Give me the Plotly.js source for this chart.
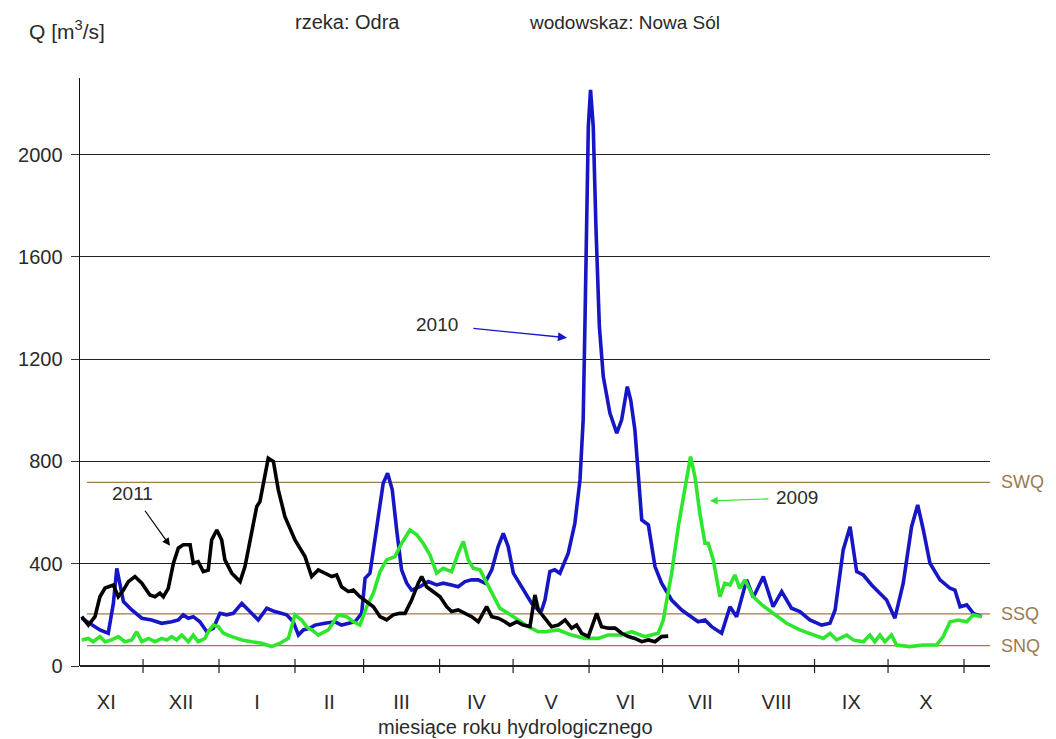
<!DOCTYPE html>
<html>
<head>
<meta charset="utf-8">
<script src="https://cdn.plot.ly/plotly-3.0.1.min.js"></script>
<style>
  html, body { margin: 0; padding: 0; background: #fff; }
  #chart { width: 1056px; height: 739px; }
</style>
</head>
<body>
<div id="chart"></div>
<script>
// Hydrological year starts on 1 November; x = day of the hydrological year.
const monthLabels = ['XI', 'XII', 'I', 'II', 'III', 'IV', 'V', 'VI', 'VII', 'VIII', 'IX', 'X'];
const monthLengths = [30, 31, 31, 28, 31, 30, 31, 30, 31, 31, 30, 31];

// Characteristic flows [m3/s]
const levelNames = ['SWQ', 'SSQ', 'SNQ'];
const levelValues = [718, 204, 80];

// 2009 (green)
const days2009 = [5, 7.7, 9.7, 12.4, 14.5, 17.2, 19.9, 22.6, 25.4, 27.4, 29.5, 32.2, 34.9, 37.6, 39.7, 41.7, 43.7, 45.8, 48.5, 50.5, 52.5, 55.3, 56.6, 58.7, 60.7, 62.8, 66.2, 70.3, 74.3, 78.4, 82.5, 85.9, 89.3, 90.7, 92, 94.7, 97, 99, 101.5, 105.6, 109.7, 113.1, 115.8, 118.5, 121.3, 124, 126.7, 129.4, 132.8, 135.5, 138.9, 141.7, 144.3, 147.1, 149.8, 152.5, 155.9, 158.6, 160.7, 162.7, 164.8, 167.5, 170.2, 172.9, 175.6, 179, 183.1, 187.2, 191.3, 194, 199.4, 204.9, 210.3, 215.7, 219.8, 225.3, 229.4, 234.8, 240.2, 242.3, 243.7, 245.7, 248.4, 251.1, 253.4, 255.2, 257.2, 259.3, 260.6, 262.7, 265.4, 267.4, 269.5, 271.5, 273.5, 275.6, 279, 282.4, 285.8, 287.1, 292.6, 298, 303.5, 307.6, 310.3, 313, 317.1, 319.8, 323.9, 326.6, 328.6, 330.7, 332.7, 335.4, 337.5, 342.9, 348.4, 353.8, 356.5, 359.3, 362.7, 366.1, 368.8, 372.2];
const flow2009 = [102, 108, 95, 115, 95, 102, 115, 95, 102, 134, 95, 108, 95, 108, 102, 115, 102, 121, 95, 121, 95, 108, 134, 160, 154, 128, 115, 102, 95, 89, 76, 89, 108, 154, 200, 180, 150, 141, 121, 141, 200, 193, 173, 160, 232, 285, 369, 415, 428, 480, 532, 513, 480, 434, 363, 382, 369, 441, 487, 415, 382, 376, 324, 271, 226, 206, 180, 154, 134, 134, 141, 121, 108, 108, 121, 121, 134, 115, 128, 180, 258, 363, 545, 702, 819, 741, 598, 480, 480, 415, 271, 324, 317, 356, 304, 337, 271, 240, 215, 206, 167, 141, 121, 108, 128, 102, 121, 102, 95, 121, 95, 121, 95, 121, 82, 76, 82, 82, 115, 173, 180, 173, 200, 193];

// 2010 (blue)
const days2010 = [5, 9, 12.4, 15.8, 17.9, 19.3, 20.6, 22, 25.4, 29.5, 33.5, 37.6, 41.7, 44.4, 46.4, 48.5, 50.5, 53.2, 56, 58.7, 61.4, 64.1, 66.8, 70.3, 73, 77, 80.5, 83.8, 88.6, 91.3, 93.4, 95.4, 98.1, 100.2, 104.2, 108.3, 111, 113.8, 116.5, 119.2, 120.6, 122.6, 125.3, 128, 129.8, 131.7, 133.5, 135.5, 137.6, 139.6, 143, 146.4, 149.8, 152.5, 155.9, 158.6, 161.4, 164.1, 166.8, 169.5, 172.3, 174.9, 177, 179, 181.1, 184.5, 188.6, 191.3, 192.7, 194, 196, 198, 200.1, 203.5, 206.2, 208.3, 209.6, 210.3, 211, 211.7, 212.6, 213.7, 214.8, 216.2, 217.8, 220.5, 223.3, 225.3, 227.6, 229, 230.7, 232.2, 233.5, 236.2, 238.9, 241.6, 245.7, 249.8, 253.9, 256.5, 259.3, 262, 266.1, 269.5, 272.2, 276.3, 279, 283.1, 287.1, 290.6, 294.6, 298, 302.1, 306.9, 310.3, 312.4, 315.7, 318.5, 321.2, 323.9, 327.3, 330.7, 333.4, 336.8, 340.2, 343.6, 346.1, 348.4, 351.1, 355.2, 359.3, 361.3, 363.4, 366.1, 368.8, 372.2];
const flow2010 = [187, 160, 141, 128, 245, 382, 324, 252, 219, 187, 180, 167, 173, 180, 200, 187, 193, 173, 134, 148, 206, 200, 206, 245, 219, 180, 226, 213, 200, 173, 121, 141, 148, 160, 167, 173, 160, 167, 173, 206, 343, 363, 532, 715, 754, 689, 532, 376, 324, 297, 310, 330, 317, 324, 317, 310, 330, 337, 337, 324, 376, 467, 519, 467, 363, 310, 245, 219, 219, 258, 369, 376, 363, 441, 558, 728, 963, 1328, 1719, 2111, 2254, 2111, 1719, 1328, 1132, 989, 911, 963, 1093, 1040, 924, 720, 571, 552, 389, 324, 258, 219, 193, 173, 180, 154, 128, 232, 193, 337, 268, 350, 232, 291, 226, 213, 180, 160, 167, 219, 454, 545, 369, 356, 317, 285, 258, 187, 324, 545, 630, 532, 402, 337, 304, 297, 232, 239, 206, 193];

// 2011 (black)
const days2011 = [5, 7.7, 10.4, 12.4, 14.5, 16.5, 17.9, 19.9, 22, 24, 26.7, 29.5, 32.8, 34.9, 36.9, 38.3, 40.3, 42.4, 44.4, 46.4, 49.2, 50.5, 52.5, 54.6, 56.6, 58, 60.1, 62.1, 63.4, 66.2, 69.6, 71.6, 74.3, 76.4, 77.7, 79.8, 81.1, 83.2, 85.2, 87.9, 92, 96.1, 98.8, 101.5, 104.2, 107, 109, 111, 113.8, 115.8, 118.5, 121.3, 124, 126.7, 129.4, 132.1, 134.8, 136.9, 139.6, 142.3, 143.7, 145.7, 148.4, 151.2, 153.9, 155.9, 158.6, 161.4, 164.1, 166.8, 170.2, 172.3, 174.9, 177.7, 179.7, 182.5, 185.1, 187.9, 189.9, 191.3, 194, 196.7, 199.4, 202.2, 204.9, 206.9, 209, 211.7, 215.1, 217.1, 219.8, 222.6, 225.3, 228, 230.7, 233.5, 236.2, 238.9, 241.6, 244.3];
const flow2011 = [193, 160, 193, 271, 305, 310, 317, 271, 297, 330, 350, 324, 278, 271, 285, 271, 304, 402, 461, 474, 474, 402, 408, 369, 375, 493, 532, 493, 415, 363, 330, 389, 532, 624, 643, 754, 813, 800, 689, 584, 493, 428, 350, 376, 363, 350, 356, 310, 291, 297, 271, 252, 232, 193, 180, 200, 206, 206, 258, 324, 350, 310, 291, 271, 232, 213, 219, 206, 193, 173, 232, 193, 187, 173, 160, 173, 160, 154, 278, 219, 187, 154, 160, 180, 148, 160, 128, 115, 206, 154, 148, 148, 128, 115, 108, 95, 102, 95, 115, 117];

const TEXT = '#2a2a2a';
const BROWN = '#a07a50';
const BLUE = '#1616c4';
const GREEN = '#2fe62f';
const FONT = 'Liberation Sans, Arial, sans-serif';

// Month boundaries and centres along the hydrological year
const monthEnds = [];
const monthMids = [];
let acc = 0;
monthLengths.forEach(len => {
  monthMids.push(acc + len / 2);
  acc += len;
  monthEnds.push(acc);
});

const X_MIN = 4.28, X_MAX = 375.6;

function series(x, y, color) {
  return {
    type: 'scatter', mode: 'lines', x: x, y: y,
    line: { color: color, width: 3.6, shape: 'linear' },
    hoverinfo: 'x+y', showlegend: false
  };
}

const data = [
  series(days2010, flow2010, BLUE),
  series(days2009, flow2009, GREEN),
  series(days2011, flow2011, '#000000')
];

const shapes = [];
// Characteristic flow levels
levelValues.forEach(v => {
  shapes.push({
    type: 'line', xref: 'x', yref: 'y', x0: 7.1, x1: X_MAX, y0: v, y1: v,
    line: { color: BROWN, width: 1.3 }, layer: 'below'
  });
});
// Month boundary ticks crossing the time axis
monthEnds.forEach(b => {
  shapes.push({
    type: 'line', xref: 'x', yref: 'paper', x0: b, x1: b, y0: -0.012, y1: 0.012,
    line: { color: '#222', width: 1.2 }
  });
});

const labelFont = { family: FONT, size: 20, color: TEXT };

const annotations = [
  { xref: 'paper', yref: 'paper', x: -0.0582, y: 1.0816, xanchor: 'left', yanchor: 'middle',
    text: 'Q [m<sup>3</sup>/s]', showarrow: false, font: { family: FONT, size: 21, color: TEXT } },
  { xref: 'paper', yref: 'paper', x: 0.2341, y: 1.0952, xanchor: 'left', yanchor: 'middle',
    text: 'rzeka: Odra', showarrow: false, font: labelFont },
  { xref: 'paper', yref: 'paper', x: 0.4912, y: 1.0952, xanchor: 'left', yanchor: 'middle',
    text: 'wodowskaz: Nowa Sól', showarrow: false, font: { family: FONT, size: 19, color: TEXT } },
  { xref: 'paper', yref: 'paper', x: 0.4791, y: -0.1037, xanchor: 'center', yanchor: 'middle',
    text: 'miesiące roku hydrologicznego', showarrow: false, font: labelFont },

  // Year labels with pointers (arrow head at the curve, label at the tail)
  { xref: 'x', yref: 'y', x: 41.0, y: 470, ax: -37, ay: -52, text: '2011', showarrow: true,
    startstandoff: 6, arrowhead: 2, arrowsize: 1.3, arrowwidth: 1.2, arrowcolor: '#000',
    font: { family: FONT, size: 19, color: TEXT } },
  { xref: 'x', yref: 'y', x: 203, y: 1284, ax: -130, ay: -13, text: '2010', showarrow: true,
    startstandoff: 14, arrowhead: 2, arrowsize: 1.4, arrowwidth: 1.3, arrowcolor: BLUE,
    font: { family: FONT, size: 19, color: TEXT } },
  { xref: 'x', yref: 'y', x: 261.3, y: 646, ax: 87, ay: -3, text: '2009', showarrow: true,
    startstandoff: 6, arrowhead: 2, arrowsize: 1.3, arrowwidth: 1.2, arrowcolor: GREEN,
    font: { family: FONT, size: 19, color: TEXT } }
];

// Level names to the right of the plot
levelNames.forEach((name, i) => {
  annotations.push({
    xref: 'paper', yref: 'y', x: 1.01, y: levelValues[i], xanchor: 'left', yanchor: 'middle',
    text: name, showarrow: false, font: { family: FONT, size: 18, color: '#9a7a50' }
  });
});

const layout = {
  width: 1056, height: 739,
  margin: { l: 80, r: 66, t: 78, b: 73 },
  paper_bgcolor: '#ffffff', plot_bgcolor: '#ffffff',
  showlegend: false,
  font: { family: FONT, size: 19, color: TEXT },
  xaxis: {
    range: [X_MIN, X_MAX], showgrid: false, zeroline: false, showline: false,
    tickmode: 'array', tickvals: monthMids, ticktext: monthLabels,
    ticks: '', ticklabelstandoff: 22,
    tickfont: { family: FONT, size: 20, color: TEXT }, fixedrange: true
  },
  yaxis: {
    range: [0, 2300], tickmode: 'array', tickvals: [0, 400, 800, 1200, 1600, 2000],
    showgrid: true, gridcolor: '#222', gridwidth: 1,
    zeroline: true, zerolinecolor: '#222', zerolinewidth: 1.2,
    showline: true, linecolor: '#111', linewidth: 1.4,
    ticks: 'outside', ticklen: 8, tickcolor: '#333', tickwidth: 1,
    ticklabelstandoff: 4,
    tickfont: { family: FONT, size: 20, color: TEXT }, fixedrange: true
  },
  shapes: shapes,
  annotations: annotations
};

Plotly.newPlot('chart', data, layout, { displayModeBar: false, staticPlot: true });
</script>
</body>
</html>
